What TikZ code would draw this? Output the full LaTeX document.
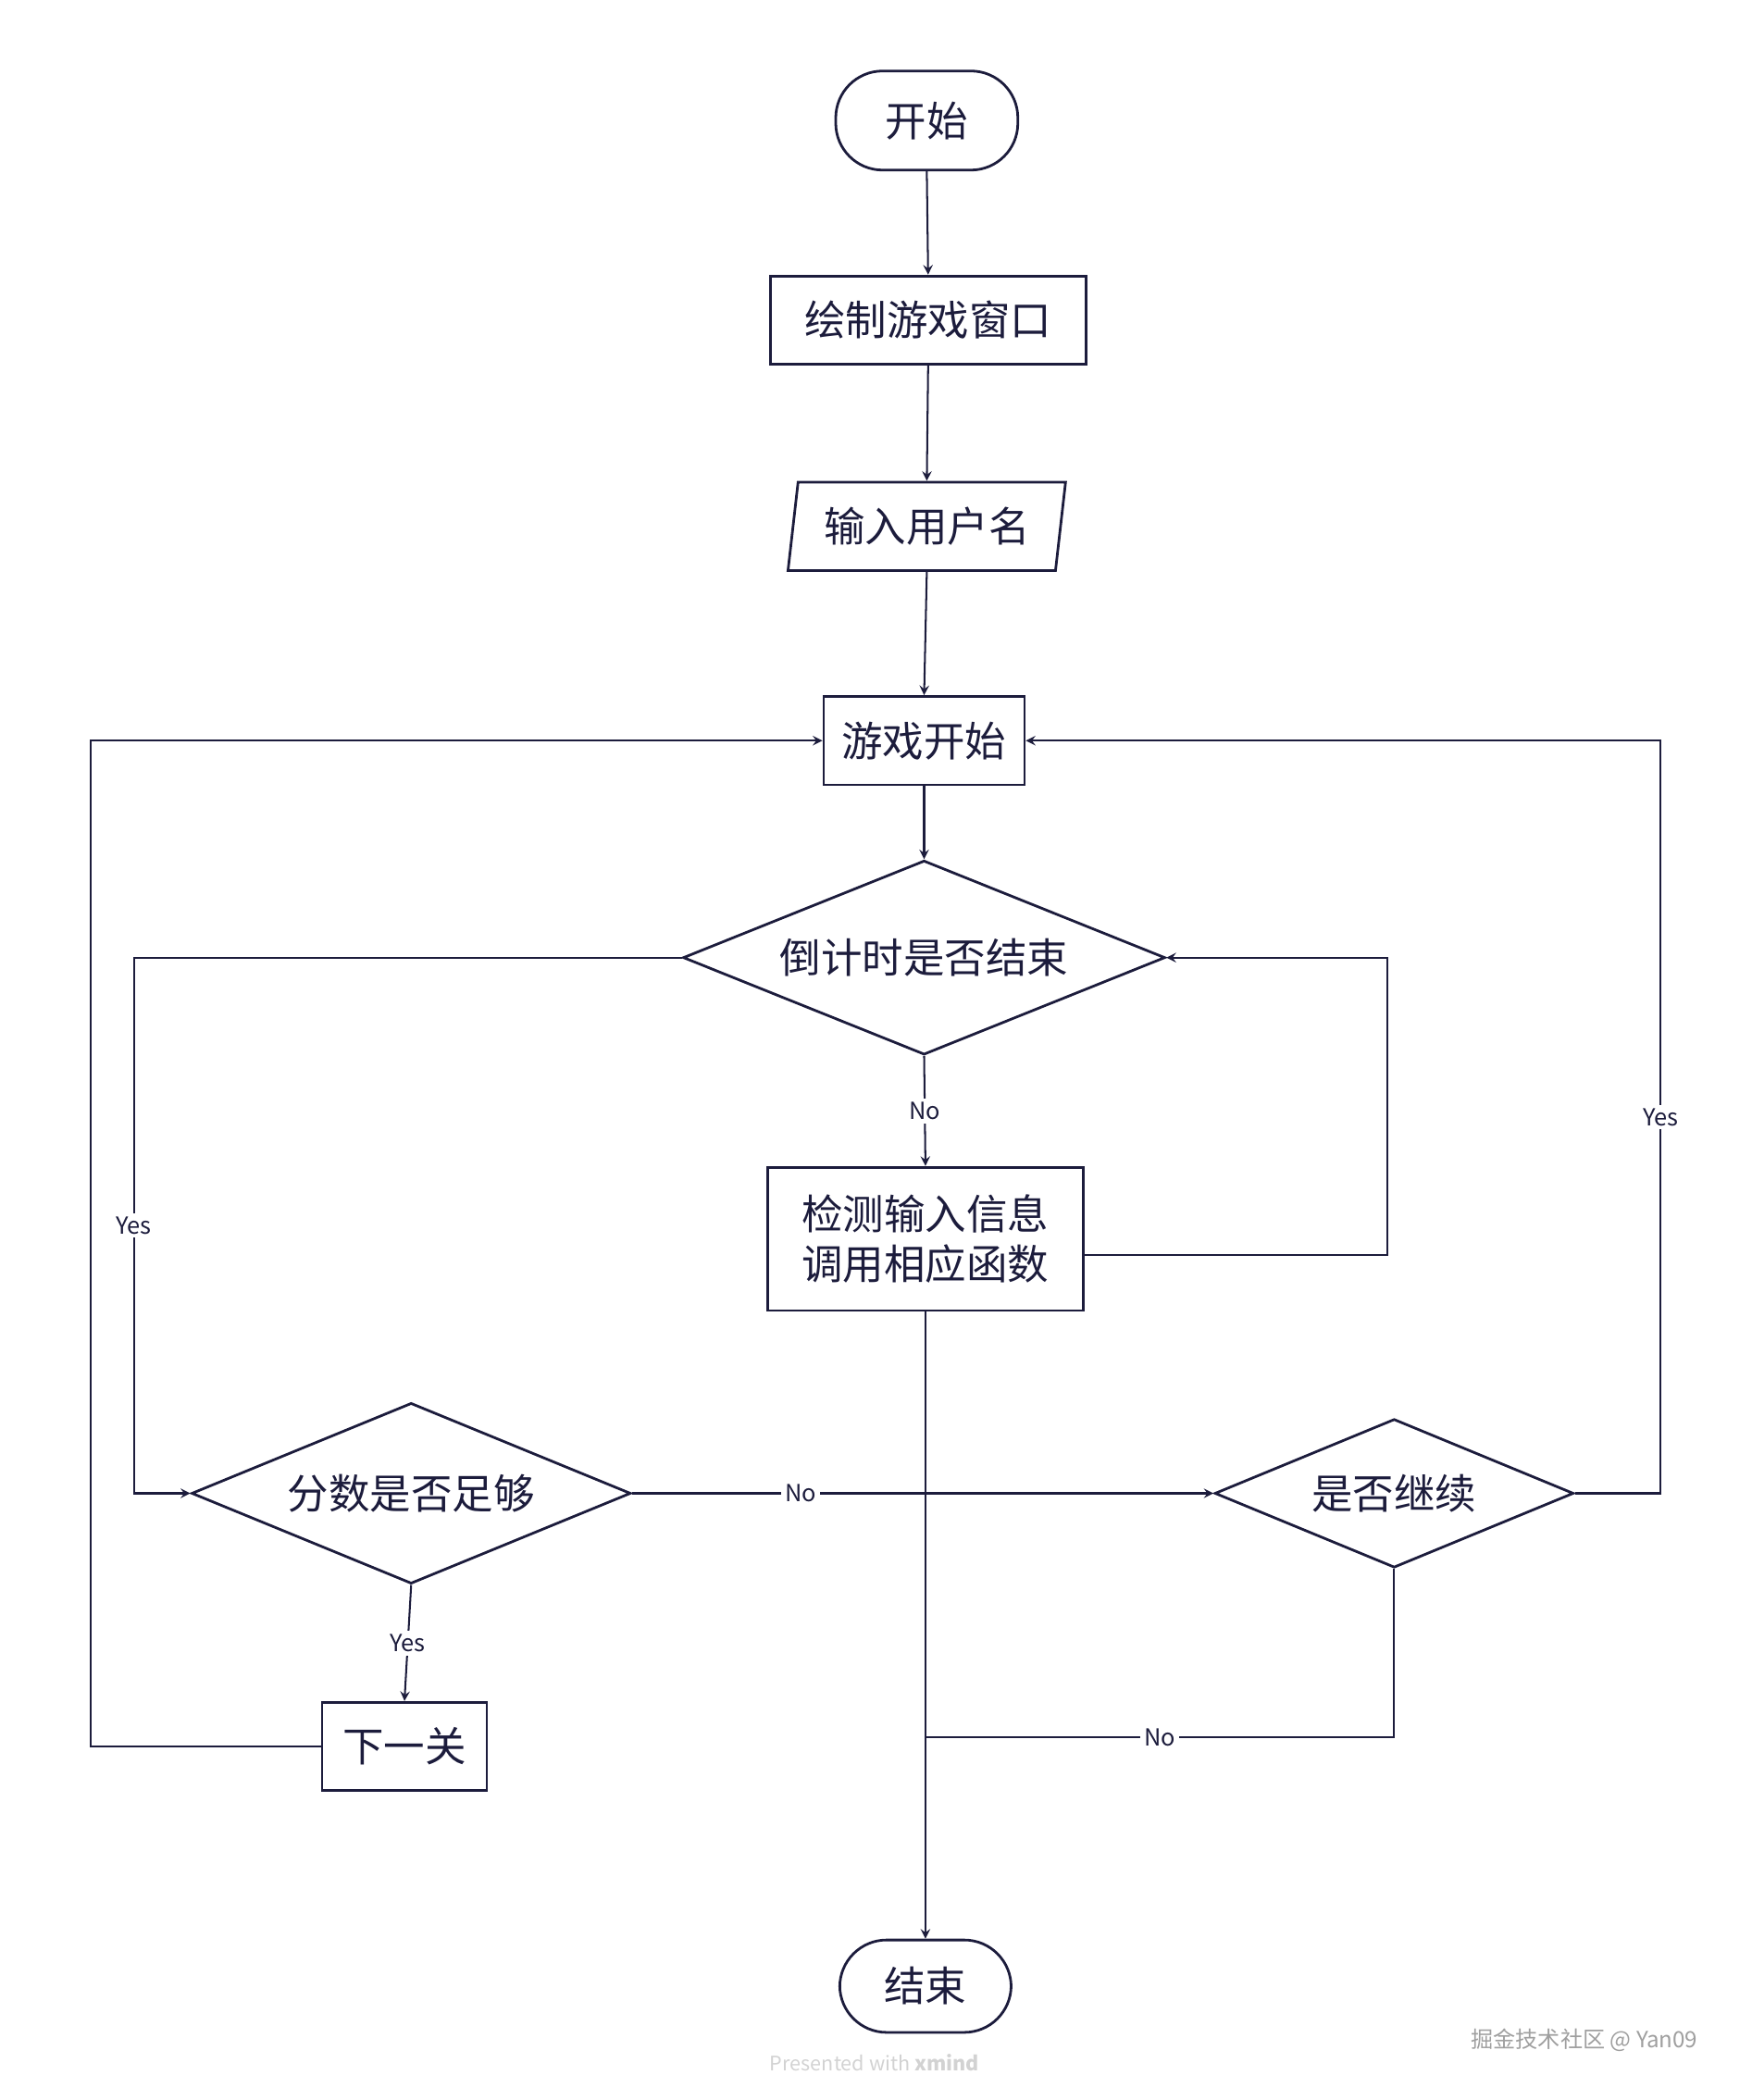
\documentclass[tikz,border=0pt]{standalone}
\usepackage{fontspec}
\newfontfamily\cjk{Noto Sans CJK SC}
\usetikzlibrary{shapes.geometric, arrows, positioning, calc}
\definecolor{ink}{HTML}{1C1C3C}

\begin{document}
\begin{tikzpicture}[
        x=0.02cm, y=-0.02cm,
        every node/.style={text=ink, font=\cjk\fontsize{17.5}{21}\selectfont, text centered, inner sep=2pt},
        box/.style={draw=ink, line width=1.1pt, rectangle},
        term/.style={draw=ink, line width=1.1pt, rectangle, rounded corners=0.7cm},
        io/.style={draw=ink, line width=1.1pt, trapezium, trapezium left angle=80, trapezium right angle=100, trapezium stretches=true},
        choice/.style={draw=ink, line width=1.1pt, diamond, inner sep=0pt, aspect=2.4},
        lbl/.style={fill=white, font=\cjk\fontsize{10}{12}\selectfont, inner sep=1.5pt},
        arrow/.style={draw=ink, line width=0.8pt, ->, >=stealth},
        line/.style={draw=ink, line width=0.8pt}
      ]
        \useasboundingbox (0,0) rectangle (1308,1568);

        % Main flow
        \node (start) [term, minimum width=2.72cm, minimum height=1.48cm] at (692,90) {开始};
        \node (window) [box, minimum width=4.72cm, minimum height=1.32cm] at (693,239) {绘制游戏窗口};
        \node (username) [io, minimum width=4.16cm, minimum height=1.32cm] at (692,393) {输入用户名};
        \node (gamestart) [box, minimum width=3.0cm, minimum height=1.32cm] at (690,553) {游戏开始};
        \node (countdown) [choice, minimum width=7.2cm, minimum height=2.9cm] at (690,715) {倒计时是否结束};
        \node (detect) [box, minimum width=4.72cm, minimum height=2.14cm, align=center] at (691,925) {检测输入信息\\调用相应函数};
        \node (score) [choice, minimum width=6.56cm, minimum height=2.7cm] at (307,1115) {分数是否足够};
        \node (goon) [choice, minimum width=5.36cm, minimum height=2.22cm] at (1041,1115) {是否继续};
        \node (nextlevel) [box, minimum width=2.46cm, minimum height=1.32cm] at (302,1304) {下一关};
        \node (finish) [term, minimum width=2.56cm, minimum height=1.38cm] at (691,1483) {结束};

        % Turning points of the loops
        \coordinate (loopA) at (68,0);
        \coordinate (loopB) at (100,0);
        \coordinate (loopC) at (1036,0);
        \coordinate (loopD) at (1240,0);
        \coordinate (merge) at (691,1297);
        \coordinate (detectout) at ($(detect.east)+(0,12)$);

        % Arrows
        \draw [arrow] (start.south) -- (window.north);
        \draw [arrow] (window.south) -- (username.north);
        \draw [arrow] (username.south) -- (gamestart.north);
        \draw [arrow] (gamestart.south) -- (countdown.north);
        \draw [arrow] (countdown.south) -- node[lbl] {No} (detect.north);
        \draw [arrow] (detectout) -- (detectout -| loopC) |- (countdown.east);
        \draw [arrow] (countdown.west) -- (countdown.west -| loopB) |- node[lbl, pos=0.25] {Yes} (score.west);
        \draw [arrow] (score.south) -- node[lbl] {Yes} (nextlevel.north);
        \draw [arrow] (nextlevel.west) -- (nextlevel.west -| loopA) |- (gamestart.west);
        \draw [arrow] (score.east) -- node[lbl, pos=0.29] {No} (goon.west);
        \draw [arrow] (goon.east) -- (goon.east -| loopD) |- node[lbl, pos=0.25] {Yes} (gamestart.east);
        \draw [arrow] (detect.south) -- (finish.north);
        \draw [line] (goon.south) |- node[lbl, pos=0.75] {No} (merge);

        % Watermarks
        \node (mark) [text=gray!75, font=\cjk\fontsize{9.5}{11}\selectfont] at (1183,1523) {掘金技术社区 @ Yan09};
        \node (credit) [text=gray!35, font=\cjk\fontsize{8.5}{10}\selectfont] at (653,1540) {Presented with \textbf{xmind}};
      \end{tikzpicture}
\end{document}
